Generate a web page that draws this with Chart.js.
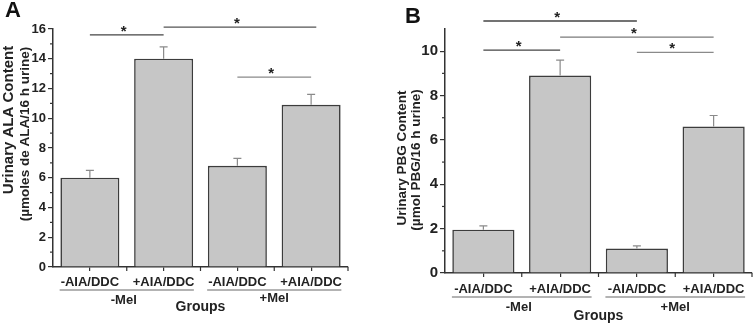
<!DOCTYPE html>
<html>
<head>
<meta charset="utf-8">
<script src="https://cdn.jsdelivr.net/npm/chart.js@4"></script>
<style>
  body { margin: 0; background: #fff; }
  .panel { position: absolute; top: 0; }
  #wrapA { left: 0; }
  #wrapB { left: 380px; }
</style>
</head>
<body>
<div class="panel" id="wrapA"><canvas id="chartA" width="380" height="325"></canvas></div>
<div class="panel" id="wrapB"><canvas id="chartB" width="373" height="325"></canvas></div>
<script>
// Data
const categories = ['-AIA/DDC', '+AIA/DDC', '-AIA/DDC', '+AIA/DDC'];
const groups = ['-Mel', '+Mel'];

const alaMean = [6.0, 14.0, 6.8, 10.9];
const alaSem = [0.5, 0.8, 0.5, 0.7];
const alaTicks = [0, 2, 4, 6, 8, 10, 12, 14, 16];
// significance brackets: [from category, to category, level]
const alaSig = [[0, 1, 15.6], [1, 3.07, 16.13], [2, 3, 12.77]];

const pbgMean = [1.95, 8.9, 1.1, 6.6];
const pbgSem = [0.17, 0.7, 0.12, 0.5];
const pbgTicks = [0, 2, 4, 6, 8, 10];
const pbgSig = [[0, 2, 11.36], [1, 3, 10.63], [0, 1, 10.05], [2, 3, 9.95]];

const FONT = '"Liberation Sans", Arial, sans-serif';

function makePanel(id, opt) {
    const ctx = document.getElementById(id).getContext('2d');

    const extras = {
        id: 'extras',
        afterDatasetsDraw(chart) {
            const c = chart.ctx;
            const x = chart.scales.x, y = chart.scales.y;
            // error bars (upper only)
            c.save();
            c.strokeStyle = '#8a8a8a';
            c.lineWidth = 1.2;
            opt.mean.forEach((m, i) => {
                const px = x.getPixelForValue(i);
                const y0 = y.getPixelForValue(m);
                const y1 = y.getPixelForValue(m + opt.sem[i]);
                c.beginPath();
                c.moveTo(px, y0);
                c.lineTo(px, y1);
                c.moveTo(px - 4, y1);
                c.lineTo(px + 4, y1);
                c.stroke();
            });
            c.restore();
        },
        afterDraw(chart) {
            const c = chart.ctx;
            const x = chart.scales.x, y = chart.scales.y;
            const area = chart.chartArea;
            c.save();

            // minor y ticks
            c.strokeStyle = '#333';
            c.lineWidth = 1.2;
            for (let v = 1; v < opt.max; v += 2) {
                const py = y.getPixelForValue(v);
                c.beginPath();
                c.moveTo(area.left - 3, py);
                c.lineTo(area.left, py);
                c.stroke();
            }
            // x ticks between categories and at the right end
            const step = x.getPixelForValue(1) - x.getPixelForValue(0);
            for (let i = 0; i < categories.length; i++) {
                const px = x.getPixelForValue(i) + step / 2;
                c.beginPath();
                c.moveTo(px, area.bottom);
                c.lineTo(px, area.bottom + 4);
                c.stroke();
            }

            // significance brackets
            opt.sig.forEach((s, k) => {
                const x1 = x.getPixelForValue(s[0]);
                const x2 = x.getPixelForValue(s[1]);
                const py = y.getPixelForValue(s[2]);
                c.strokeStyle = opt.sigColors[k];
                c.lineWidth = 1.3;
                c.beginPath();
                c.moveTo(x1, py);
                c.lineTo(x2, py);
                c.stroke();
                c.fillStyle = '#222';
                c.font = 'bold 15px ' + FONT;
                c.textAlign = 'center';
                c.textBaseline = 'alphabetic';
                c.fillText('*', (x1 + x2) / 2 - 3, py - 8 + 0.58 * 15);
            });

            // group underlines and labels
            c.strokeStyle = '#9a9a9a';
            c.lineWidth = 1.3;
            c.fillStyle = '#222';
            c.font = 'bold 13px ' + FONT;
            c.textAlign = 'center';
            c.textBaseline = 'middle';
            groups.forEach((g, k) => {
                const a = x.getPixelForValue(2 * k) - step * 0.41;
                const b = x.getPixelForValue(2 * k + 1) + step * 0.41;
                const uy = area.bottom + opt.underline;
                c.beginPath();
                c.moveTo(a, uy);
                c.lineTo(b, uy);
                c.stroke();
                c.fillText(g, (a + b) / 2 - (k === 0 ? 3 : 0), area.bottom + opt.groupDy[k]);
            });
            c.font = 'bold 14px ' + FONT;
            c.fillText('Groups', (area.left + area.right) / 2, area.bottom + opt.groupsDy);

            // y axis title (two lines)
            opt.title.forEach((t) => {
                c.save();
                c.translate(t.x, t.y);
                c.rotate(-Math.PI / 2);
                c.font = 'bold ' + t.size + 'px ' + FONT;
                c.fillStyle = '#222';
                c.textAlign = 'center';
                c.textBaseline = 'middle';
                c.fillText(t.text, 0, 0);
                c.restore();
            });

            // panel letter
            c.font = 'bold 22px ' + FONT;
            c.textAlign = 'left';
            c.textBaseline = 'alphabetic';
            c.fillStyle = '#111';
            c.fillText(opt.letter.text, opt.letter.x, opt.letter.y);

            c.restore();
        }
    };

    return new Chart(ctx, {
        type: 'bar',
        data: {
            labels: categories,
            datasets: [{
                data: opt.mean,
                backgroundColor: '#c6c6c6',
                borderColor: '#3c3c3c',
                borderWidth: 1.6,
                barPercentage: opt.barPct,
                categoryPercentage: 1.0
            }]
        },
        options: {
            responsive: false,
            animation: false,
            layout: { padding: opt.padding },
            plugins: {
                legend: { display: false },
                tooltip: { enabled: false }
            },
            scales: {
                x: {
                    afterFit: s => { s.height = opt.xHeight; },
                    grid: { drawOnChartArea: false, offset: false, tickLength: 4, color: '#333', lineWidth: 1.2 },
                    border: { color: '#333', width: 1.5 },
                    ticks: {
                        padding: opt.xPad, autoSkip: false, maxRotation: 0,
                        color: '#222', font: { family: FONT, size: 13, weight: 'bold' }
                    }
                },
                y: {
                    min: 0,
                    max: opt.max,
                    afterFit: s => { s.width = opt.yWidth; },
                    afterBuildTicks: s => { s.ticks = opt.ticks.map(v => ({ value: v })); },
                    grid: { drawOnChartArea: false, tickLength: 5, color: '#333', lineWidth: 1.2 },
                    border: { color: '#333', width: 1.5 },
                    ticks: {
                        padding: 2,
                        color: '#222', font: { family: FONT, size: opt.tickSize, weight: 'bold' }
                    }
                }
            }
        },
        plugins: [extras]
    });
}

makePanel('chartA', {
    mean: alaMean, sem: alaSem, ticks: alaTicks, sig: alaSig, max: 16,
    sigColors: ['#444', '#555', '#8a8a8a'],
    padding: { left: 0, top: 29, right: 32, bottom: 0 },
    yWidth: 53, xHeight: 58, xPad: 4, tickSize: 13, barPct: 0.8,
    underline: 23, groupDy: [33, 31], groupsDy: 40,
    title: [
        { text: 'Urinary ALA Content', x: 9, y: 120, size: 15 },
        { text: '(\u00b5moles de ALA/16 h urine)', x: 25, y: 134, size: 13.5 }
    ],
    letter: { text: 'A', x: 5, y: 17 }
});

makePanel('chartB', {
    mean: pbgMean, sem: pbgSem, ticks: pbgTicks, sig: pbgSig, max: 11,
    sigColors: ['#444', '#7a7a7a', '#444', '#8a8a8a'],
    padding: { left: 0, top: 29, right: 1, bottom: 0 },
    yWidth: 65, xHeight: 52, xPad: 5, tickSize: 15, barPct: 0.81,
    underline: 24, groupDy: [34, 34], groupsDy: 43,
    title: [
        { text: 'Urinary PBG Content', x: 22, y: 158, size: 13.5 },
        { text: '(\u00b5mol PBG/16 h urine)', x: 36, y: 160, size: 13.5 }
    ],
    letter: { text: 'B', x: 25, y: 23 }
});
</script>
</body>
</html>
